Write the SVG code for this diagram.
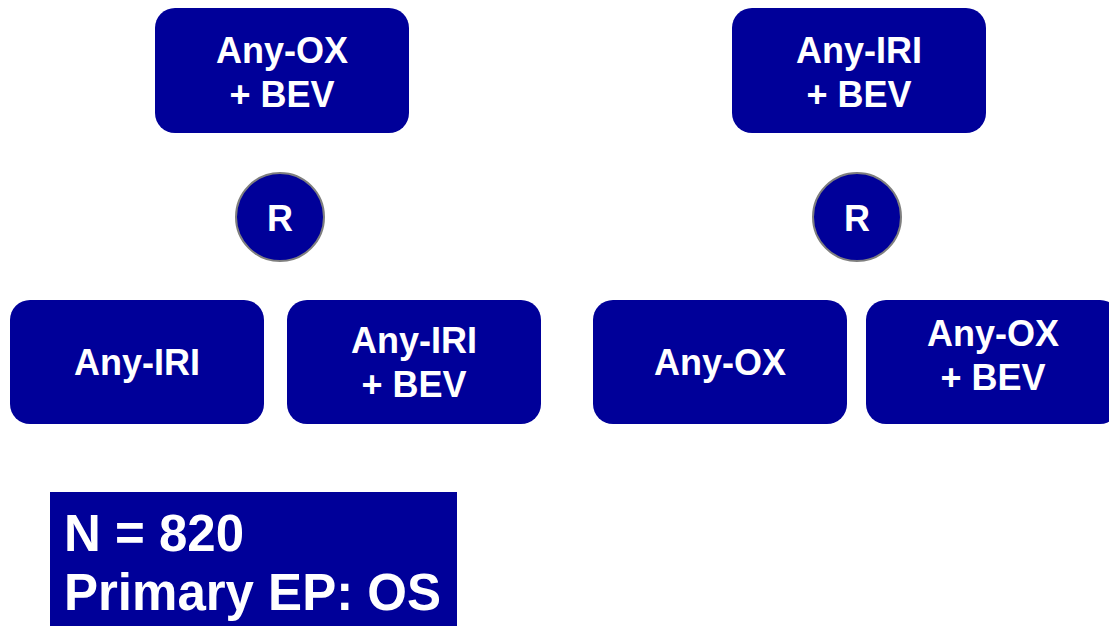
<svg xmlns="http://www.w3.org/2000/svg" width="1109" height="626" viewBox="0 0 1109 626">
  <style>
    .box { fill: #000099; }
    .rnd { fill: #000099; stroke: #7f7f7f; stroke-width: 2; }
    .lbl { font-family: "Liberation Sans", Arial, sans-serif; font-weight: bold; font-size: 36px; fill: #ffffff; text-anchor: middle; }
    .info { font-family: "Liberation Sans", Arial, sans-serif; font-weight: bold; font-size: 51px; fill: #ffffff; }
  </style>
  <rect width="1109" height="626" fill="#ffffff"/>

  <!-- first arm: Any-OX + BEV randomised -->
  <g id="top-left">
    <rect class="box" x="155" y="8" width="254" height="125" rx="20"/>
    <text class="lbl" x="282" y="63">Any-OX</text>
    <text class="lbl" x="282" y="107">+ BEV</text>
  </g>
  <g id="rand-left">
    <circle class="rnd" cx="280" cy="217" r="44"/>
    <text class="lbl" x="280" y="231">R</text>
  </g>
  <g id="bottom-1">
    <rect class="box" x="10" y="300" width="254" height="124" rx="20"/>
    <text class="lbl" x="137" y="375">Any-IRI</text>
  </g>
  <g id="bottom-2">
    <rect class="box" x="287" y="300" width="254" height="124" rx="20"/>
    <text class="lbl" x="414" y="353">Any-IRI</text>
    <text class="lbl" x="414" y="397">+ BEV</text>
  </g>

  <!-- second arm: Any-IRI + BEV randomised -->
  <g id="top-right">
    <rect class="box" x="732" y="8" width="254" height="125" rx="20"/>
    <text class="lbl" x="859" y="63">Any-IRI</text>
    <text class="lbl" x="859" y="107">+ BEV</text>
  </g>
  <g id="rand-right">
    <circle class="rnd" cx="857" cy="217" r="44"/>
    <text class="lbl" x="857" y="231">R</text>
  </g>
  <g id="bottom-3">
    <rect class="box" x="593" y="300" width="254" height="124" rx="20"/>
    <text class="lbl" x="720" y="375">Any-OX</text>
  </g>
  <g id="bottom-4">
    <rect class="box" x="866" y="300" width="254" height="124" rx="20"/>
    <text class="lbl" x="993" y="346">Any-OX</text>
    <text class="lbl" x="993" y="390">+ BEV</text>
  </g>

  <g id="connectors"></g>

  <!-- study summary -->
  <g id="summary">
    <rect class="box" x="50" y="492" width="407" height="140"/>
    <text class="info" x="64" y="551">N = 820</text>
    <text class="info" x="64" y="610">Primary EP: OS</text>
  </g>
</svg>
